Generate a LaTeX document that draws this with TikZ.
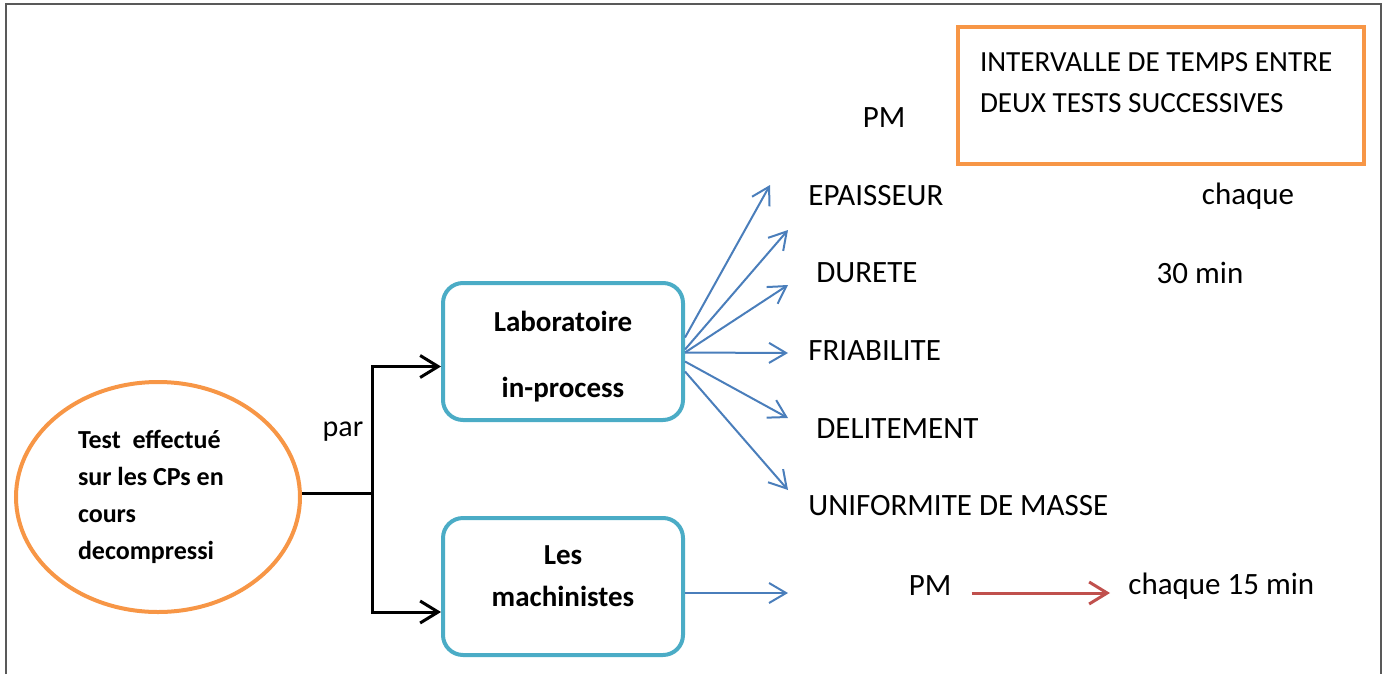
\documentclass[tikz,border=0pt]{standalone}
\usepackage{fontspec}
\setmainfont{Carlito}
\usepackage{xcolor}
\usepackage{tikz}
\usetikzlibrary{calc,positioning,arrows.meta,shapes.geometric}

\definecolor{orangeline}{HTML}{F79646}
\definecolor{tealline}{HTML}{4BACC6}
\definecolor{bluearrow}{HTML}{4A7EBB}
\definecolor{redarrow}{HTML}{C0504D}

\tikzset{
  testell/.style={ellipse, draw=orangeline, line width=2pt, minimum width=142pt, minimum height=115pt,
    align=flush left, text width=80pt, font=\fontsize{13}{18.5}\selectfont\bfseries},
  groupbox/.style={draw=tealline, line width=2pt, rounded corners=10pt, minimum width=120pt,
    minimum height=68.5pt},
  grouptext/.style={inner sep=0pt, align=center, font=\fontsize{14.5}{17}\selectfont\bfseries},
  notebox/.style={draw=orangeline, line width=2.4pt, minimum width=203pt, minimum height=68.5pt},
  lbl/.style={inner sep=0pt, font=\fontsize{15.5}{19}\selectfont},
  blk/.style={line width=1.5pt, -{Straight Barb[length=9pt,width=11pt]}},
  blu/.style={bluearrow, line width=1pt, -{Straight Barb[length=8.5pt,width=10pt]}},
}

\begin{document}
\begin{tikzpicture}[x=0.5pt,y=-0.5pt]
\useasboundingbox (0,0) rectangle (1384,674);

%Frame
\draw[gray!70!black, line width=1pt] (6,674) -- (6,4) -- (1381,4) -- (1381,674);

%Start
\node[testell] (test) at (158,497) {Test\ \ effectué\\sur les CPs en\\cours\\decompressi};
\coordinate (split) at (372,493);
\node[lbl, font=\fontsize{15}{18}\selectfont] (par) at (343,432) {par};

%Groups
\node[groupbox] (lab) at (563,351.5) {};
\node[grouptext] (labtext) at (563,357) {Laboratoire\\[16pt]in-process};
\node[groupbox] (mach) at (563,586.5) {};
\node[grouptext] (machtext) at (563,576) {Les\\[4pt]machinistes};

\draw[blk] ([yshift=2pt]test.east) -- (split) |- ([yshift=-7.5pt]lab.west);
\draw[blk] (split) |- ([yshift=-12.75pt]mach.west);

%Tests
\node[lbl, anchor=west] (epai) at (808,196) {EPAISSEUR};
\node[lbl, anchor=west] (dure) at (816,273) {DURETE};
\node[lbl, anchor=west] (fria) at (808,351) {FRIABILITE};
\node[lbl, anchor=west] (deli) at (816,429) {DELITEMENT};
\node[lbl, anchor=west] (unif) at (808,506) {UNIFORMITE DE MASSE};

\coordinate (t1) at (770,185);
\coordinate (t2) at (788,230);
\coordinate (t3) at (788,285);
\coordinate (t4) at (788,353);
\coordinate (t5) at (788,418);
\coordinate (t6) at (788,490);

\draw[blu] ([yshift=7pt]lab.east) -- (t1);
\draw[blu] ([yshift=1pt]lab.east) -- (t2);
\draw[blu] ([yshift=-0.5pt]lab.east) -- (t3);
\draw[blu] ([yshift=-0.5pt]lab.east) -- (t4);
\draw[blu] ([yshift=-5pt]lab.east) -- (t5);
\draw[blu] ([yshift=-10pt]lab.east) -- (t6);

%Intervals
\node[lbl] (pmtop) at (884,118) {PM};
\node[lbl] (chaq) at (1248,196) {chaque};
\node[lbl] (trente) at (1200,273) {30 min};

\node[notebox] (note) at (1161,95.5) {};
\node[anchor=north west, inner sep=0pt, align=left, font=\fontsize{14.6}{20.5}\selectfont] (notetext)
  at ([shift={(12pt,-14pt)}]note.north west) {INTERVALLE DE TEMPS ENTRE\\DEUX TESTS SUCCESSIVES};

%Machinistes
\coordinate (t7) at (788,593);
\draw[blu] ([yshift=-3.25pt]mach.east) -- (t7);
\node[lbl] (pmbot) at (930,586) {PM};
\node[lbl, anchor=west] (quinze) at (1128,586) {chaque 15 min};
\draw[redarrow, line width=1.5pt, -{Straight Barb[length=9pt,width=11pt]}]
  ([xshift=10pt,yshift=-3.5pt]pmbot.east) -- ([xshift=-9pt,yshift=-3.5pt]quinze.west);

\end{tikzpicture}
\end{document}
